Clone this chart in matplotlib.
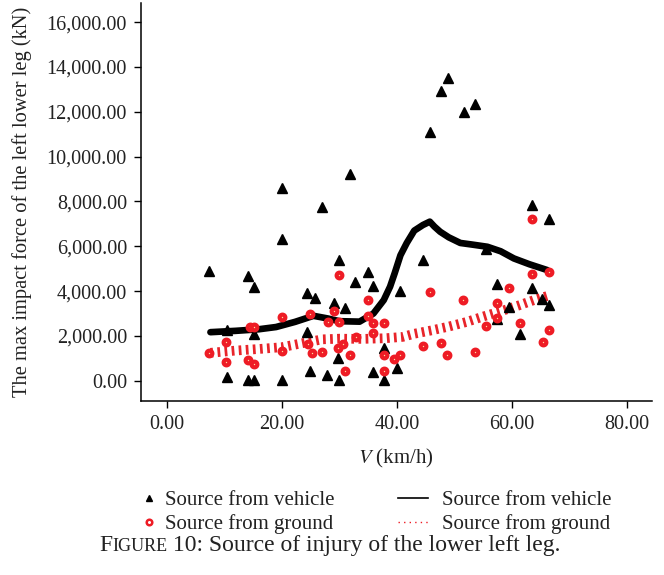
import matplotlib
matplotlib.use("Agg")
import matplotlib.pyplot as plt
from matplotlib.lines import Line2D
from matplotlib.offsetbox import TextArea, HPacker, AnchoredOffsetbox

plt.rcParams['font.family'] = ['Liberation Serif', 'DejaVu Serif']
plt.rcParams['mathtext.fontset'] = 'stix'

# scatter: source from vehicle (V km/h, force kN)
veh_v = [7.4, 10.4, 10.4, 14.2, 15.2, 14.2, 15.2, 15.2, 20.1, 20.1, 20.1,
         24.3, 24.3, 24.9, 25.8, 27.0, 27.8, 29.0, 29.8, 30.0, 30.0, 31.0,
         31.9, 32.7, 34.9, 35.9, 35.8, 37.7, 37.7, 40.0, 40.5, 44.6, 45.8,
         47.7, 48.8, 51.6, 53.5, 55.4, 57.4, 57.4, 59.4, 61.4, 63.4, 63.4,
         65.2, 66.4, 66.4]
veh_f = [4900, 150, 2250, 4690, 4170, 50, 50, 2100, 8590, 6330, 50,
         3900, 2200, 450, 3680, 7760, 250, 3450, 1000, 5390, 50, 3230,
         9230, 4420, 4870, 4230, 400, 1480, 50, 590, 4010, 5400, 11120,
         12950, 13500, 12010, 12350, 5880, 4300, 2740, 3280, 2085, 7850, 4125,
         3630, 7210, 3380]

# scatter: source from ground
gnd_v = [7.4, 10.3, 10.3, 14.1, 15.1, 14.5, 15.2, 20.1, 20.1, 24.9, 24.6,
         25.3, 27.0, 28.0, 29.0, 29.8, 30.0, 30.0, 30.7, 30.9, 31.9, 32.9,
         35.0, 35.0, 35.9, 37.8, 35.8, 37.7, 37.7, 39.5, 40.5, 44.6, 45.7,
         47.7, 48.7, 51.5, 53.5, 55.5, 57.4, 57.4, 59.4, 61.4, 63.4, 63.4,
         65.3, 66.4, 66.4]
gnd_f = [1250, 1740, 830, 940, 770, 2410, 2410, 2840, 1340, 2970, 1650,
         1250, 1270, 2634, 3120, 1480, 4705, 2634, 1630, 450, 1170, 1950,
         3620, 2900, 2562, 2589, 2116, 1147, 460, 980, 1147, 1549, 3946,
         1696, 1147, 3603, 1281, 2442, 3482, 2786, 4125, 2589, 7220, 4763,
         1741, 4866, 2263]

# fitted curves
veh_fit_v = [7.6, 12, 16, 19, 22.3, 25.5, 28, 30, 33.5, 35.9, 37.7, 38.8,
             39.6, 40.6, 41.7, 43.0, 44.5, 45.7, 46.5, 47.5, 49, 51, 53,
             55.7, 58, 60.3, 63, 66.1]
veh_fit_f = [2170, 2230, 2300, 2400, 2630, 2900, 2780, 2660, 2640, 3000,
             3600, 4200, 4800, 5600, 6150, 6700, 6950, 7100, 6880, 6650,
             6400, 6150, 6080, 5980, 5780, 5460, 5200, 4940]
gnd_fit_v = [7.6, 12, 16, 20, 24, 27, 30, 34, 38, 41, 43, 46, 49, 52, 55,
             58, 61, 64, 66.3]
gnd_fit_f = [1250, 1350, 1420, 1500, 1700, 1850, 1880, 1870, 1900, 1960,
             2100, 2250, 2420, 2620, 2870, 3100, 3350, 3620, 3800]

xticks = [0, 20, 40, 60, 80]
yticks = [0, 2000, 4000, 6000, 8000, 10000, 12000, 14000, 16000]

fig = plt.figure(figsize=(6.64, 5.75), dpi=100)
ax = fig.add_axes([0.212, 0.303, 0.77, 0.692])

ax.plot(gnd_fit_v, gnd_fit_f, color='#e8242a', lw=7,
        linestyle=(0, (0.28, 0.45)), solid_capstyle='butt', zorder=2)
ax.plot(veh_fit_v, veh_fit_f, color='black', lw=4.8, zorder=3,
        solid_joinstyle='round', solid_capstyle='round')
ax.plot(veh_v, veh_f, linestyle='none', marker='^', ms=7,
        color='black', zorder=4)
ax.plot(gnd_v, gnd_f, linestyle='none', marker='o', ms=4.1, mew=3.0,
        mec='#ee1c25', mfc='#ffd8a0', zorder=5)

ax.set_xlim(-4.5, 84.3)
ax.set_ylim(-890, 16860)
ax.set_xticks(xticks)
ax.set_yticks(yticks)
ax.set_xticklabels(['{:,.2f}'.format(t) for t in xticks])
ax.set_yticklabels(['{:,.2f}'.format(t) for t in yticks])
ax.tick_params(labelsize=14.5, length=5, width=1, direction='out', pad=5,
               labelcolor='#222222')
ax.spines['top'].set_visible(False)
ax.spines['right'].set_visible(False)
for s in ['left', 'bottom']:
    ax.spines[s].set_linewidth(1.1)

ax.set_xlabel('$V$ (km/h)', fontsize=15, color='#222222')
ax.xaxis.set_label_coords(0.5, -0.115)
ax.set_ylabel('The max impact force of the left lower leg (kN)',
              fontsize=14.8, color='#222222')
ax.yaxis.set_label_coords(-0.213, 0.5)

# legends below the axes
h1 = [Line2D([], [], linestyle='none', marker='^', ms=5, color='black'),
      Line2D([], [], linestyle='none', marker='o', ms=4, mew=1.8,
             mec='#ee1c25', mfc='white')]
fig.legend(h1, ['Source from vehicle', 'Source from ground'],
           loc='upper left', bbox_to_anchor=(0.215, 0.147), frameon=False,
           fontsize=15, handlelength=0.6, handletextpad=0.45,
           labelspacing=0.2, borderaxespad=0, borderpad=0,
           labelcolor='#222222')
h2 = [Line2D([], [], color='black', lw=1.2),
      Line2D([], [], color='#ee1c25', lw=1, linestyle=(0, (1, 3)))]
fig.legend(h2, ['Source from vehicle', 'Source from ground'],
           loc='upper left', bbox_to_anchor=(0.6, 0.147), frameon=False,
           fontsize=15, handlelength=1.4, handletextpad=0.7,
           labelspacing=0.2, borderaxespad=0, borderpad=0,
           labelcolor='#222222')

# caption with small caps "Figure"
parts = [TextArea('F', textprops=dict(size=17, color='#222222')),
         TextArea('IGURE', textprops=dict(size=13, color='#222222')),
         TextArea(' 10: Source of injury of the lower left leg.',
                  textprops=dict(size=17, color='#222222'))]
cap = HPacker(children=parts, align='baseline', pad=0, sep=0)
box = AnchoredOffsetbox(loc='center', child=cap, frameon=False,
                        bbox_to_anchor=(0.497, 0.052),
                        bbox_transform=fig.transFigure, borderpad=0, pad=0)
fig.add_artist(box)

fig.savefig('out.png', dpi=100)
